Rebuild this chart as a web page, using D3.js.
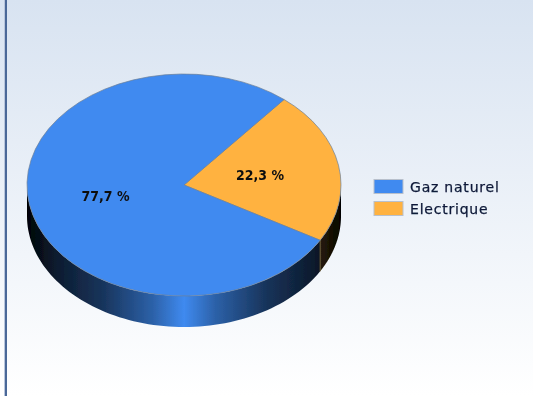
<!DOCTYPE html>
<html><head><meta charset="utf-8">
<script src="https://cdn.jsdelivr.net/npm/d3@7/dist/d3.min.js"></script>
<style>html,body{margin:0;padding:0;background:#fff;overflow:hidden}svg{display:block}</style>
</head><body><svg id="c" width="533" height="396"></svg>
<script>
const categories=["Gaz naturel","Electrique"];
const seriesValues=[77.7,22.3];
const valueLabels=["77,7 %","22,3 %"];
const colors=["#3f8af0","#ffb23f"];

const W=533,H=396,cx=184,cy=185,rx=157,ry=111,depth=31;
const svg=d3.select("#c");
const defs=svg.append("defs");
const bg=defs.append("linearGradient").attr("id","bg").attr("x1",0).attr("x2",0).attr("y1",0).attr("y2",1);
bg.append("stop").attr("offset",0).attr("stop-color","#d8e3f1");
bg.append("stop").attr("offset",1).attr("stop-color","#ffffff");
defs.append("filter").attr("id","soft").attr("x","-5%").attr("y","-5%").attr("width","110%").attr("height","110%")
  .append("feGaussianBlur").attr("stdDeviation",0.45);
function wallGrad(id,c){
  const g=defs.append("linearGradient").attr("id",id).attr("gradientUnits","userSpaceOnUse")
    .attr("x1",cx-rx).attr("x2",cx+rx).attr("y1",0).attr("y2",0);
  const dark=d3.interpolateRgb(c,"#000");
  [[0,.98],[.08,.82],[.24,.62],[.4,.3],[.5,0],[.6,.3],[.76,.62],[.92,.82],[1,.98]].forEach(([o,k])=>
    g.append("stop").attr("offset",o).attr("stop-color",dark(k)));
}
colors.forEach((c,i)=>wallGrad("wall"+i,c));

svg.append("rect").attr("width",W).attr("height",H).attr("fill","url(#bg)");
svg.append("rect").attr("x",4).attr("width",1).attr("height",H).attr("fill","#b9c6dc");
svg.append("rect").attr("x",5).attr("width",2).attr("height",H).attr("fill","#4a6898");

const start=39.6*Math.PI/180;
const pie=d3.pie().sort(null).startAngle(start).endAngle(start+2*Math.PI).value(d=>d);
// slices run clockwise from the upper boundary: electric first
const order=[1,0];
const arcs=pie(order.map(i=>seriesValues[i])).map((a,k)=>Object.assign(a,{idx:order[k]}));
const sy=ry/rx;
const arc=d3.arc().innerRadius(0).outerRadius(rx);

const art=svg.append("g").attr("filter","url(#soft)");
// side wall: only the part of each slice on the visible front half
const px=a=>cx+rx*Math.sin(a), py=a=>cy-ry*Math.cos(a);
const wallG=art.append("g");
arcs.forEach(a=>{
  const lo=Math.max(a.startAngle,Math.PI/2), hi=Math.min(a.endAngle,3*Math.PI/2);
  if(hi<=lo) return;
  const steps=d3.range(0,81).map(t=>lo+(hi-lo)*t/80);
  const line=d3.line();
  const top=steps.map(t=>[px(t),py(t)]);
  const bot=steps.slice().reverse().map(t=>[px(t),py(t)+depth]);
  wallG.append("path").attr("d",line(top.concat(bot))+"Z").attr("fill",`url(#wall${a.idx})`);
});
// lit seam between the two wall segments
const seam=arcs[0].endAngle;
wallG.append("line").attr("x1",px(seam)).attr("x2",px(seam)).attr("y1",py(seam)).attr("y2",py(seam)+depth)
  .attr("stroke","#6b5a38").attr("stroke-width",1);

const g=art.append("g").attr("transform",`translate(${cx},${cy}) scale(1,${sy})`);
g.selectAll("path").data(arcs).join("path").attr("d",arc)
  .attr("fill",d=>colors[d.idx]).attr("stroke","#6d7f96").attr("stroke-width",.7)
  .attr("vector-effect","non-scaling-stroke");

const font="'DejaVu Sans',Verdana,sans-serif";
const labelPos=[[105.5,196],[260,175]];
valueLabels.forEach((t,i)=>art.append("text").attr("x",labelPos[i][0]).attr("y",labelPos[i][1]+5)
  .attr("text-anchor","middle").attr("font-family",font).attr("font-size",13.5).attr("font-weight","bold")
  .attr("fill","#111").attr("textLength",48).attr("lengthAdjust","spacingAndGlyphs").text(t));

const ly=d3.scalePoint().domain(categories).range([186.5,208.5]);
categories.forEach((c,i)=>{
  art.append("rect").attr("x",374).attr("y",ly(c)-7).attr("width",29).attr("height",14)
    .attr("fill",colors[i]).attr("stroke","#b8c0cc").attr("stroke-width",1);
  art.append("text").attr("x",410).attr("y",ly(c)+5.5).attr("font-family",font).attr("font-size",14)
    .attr("letter-spacing",0.78).attr("fill","#0d1a38").attr("stroke","#0d1a38").attr("stroke-width",0.25).text(c);
});
</script></body></html>
